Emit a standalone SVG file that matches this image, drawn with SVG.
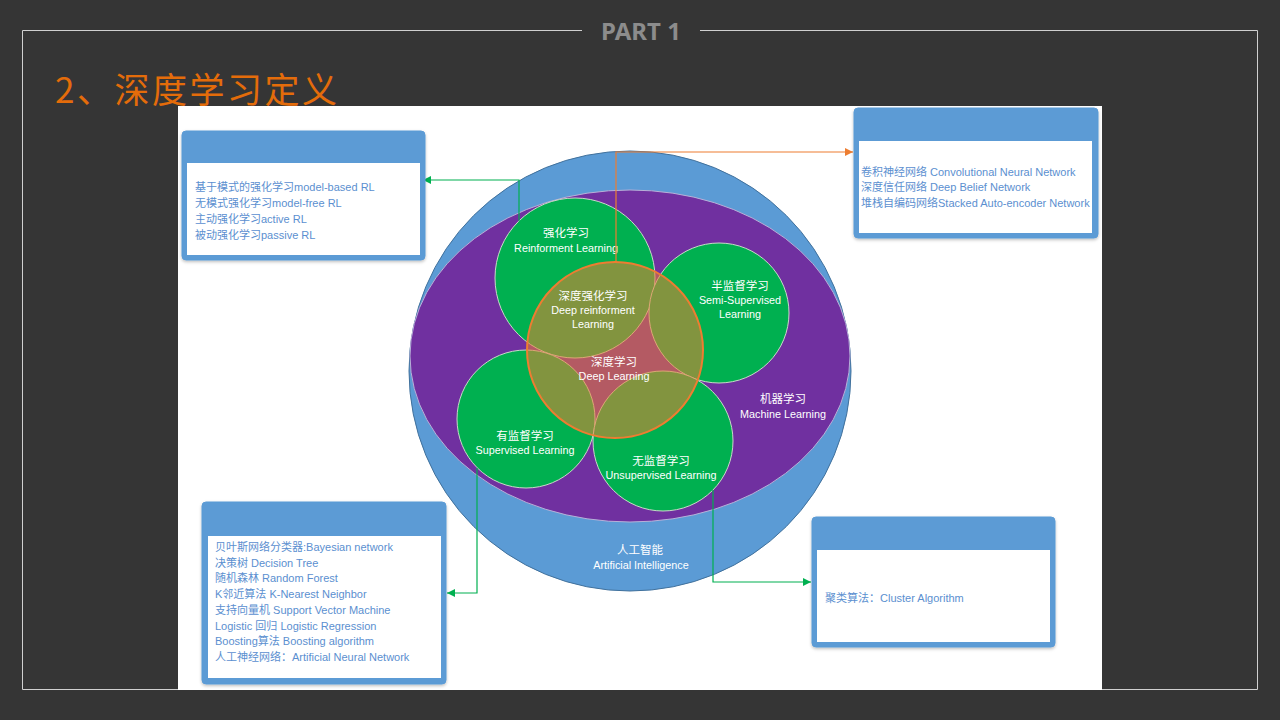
<svg xmlns="http://www.w3.org/2000/svg" width="1280" height="720" viewBox="0 0 1280 720">
<defs>
<style>
.frame{fill:none;stroke:#d0d0d0;stroke-width:1}
.boxo{fill:#5B9BD5;stroke:#5B9BD5;stroke-width:1}
.boxi{fill:#ffffff}
.bt{font-family:"Liberation Sans","Noto Sans CJK SC",sans-serif;font-size:11px;fill:#5B8FD0}
.cn{font-family:"Noto Sans CJK SC",sans-serif;font-size:11.5px;fill:#ffffff;text-anchor:middle}
.en{font-family:"Liberation Sans","Noto Sans CJK SC",sans-serif;font-size:10.8px;fill:#ffffff;text-anchor:middle}
.green{fill:#00B050;stroke:#c9d8c9;stroke-width:1}
.gl{fill:none;stroke:#00B050;stroke-width:1.2}
.ol{fill:none;stroke:#ED7D31;stroke-width:1.2}
</style>
<marker id="ag" viewBox="0 0 10 10" refX="10" refY="5" markerWidth="8" markerHeight="8" orient="auto" markerUnits="userSpaceOnUse"><path d="M0,0 L10,5 L0,10 z" fill="#00B050"/></marker>
<marker id="ao" viewBox="0 0 10 10" refX="10" refY="5" markerWidth="8" markerHeight="8" orient="auto" markerUnits="userSpaceOnUse"><path d="M0,0 L10,5 L0,10 z" fill="#ED7D31"/></marker>
<clipPath id="clipTR"><rect x="859" y="141" width="233" height="92"/></clipPath>
<filter id="sh" x="-5%" y="-5%" width="110%" height="115%"><feDropShadow dx="0" dy="1.5" stdDeviation="1.5" flood-color="#000" flood-opacity="0.25"/></filter>
</defs>
<rect x="0" y="0" width="1280" height="720" fill="#353535"/>
<path class="frame" d="M582,30.5 H22.5 V689.5 H1257.5 V30.5 H700"/>
<text x="641" y="40" font-family="Noto Sans,Liberation Sans,sans-serif" font-weight="bold" font-size="24" fill="#8c8c8c" text-anchor="middle">PART 1</text>
<text x="55" y="103" font-family="Noto Sans CJK SC,sans-serif" font-size="35" letter-spacing="2.5" fill="#E46C0A">2、深度学习定义</text>
<rect x="178" y="106" width="924" height="584" fill="#ffffff"/>

<g id="ai">
<ellipse cx="630" cy="371" rx="221" ry="220" fill="#5B9BD5" stroke="#41719C" stroke-width="1"/>
<text class="cn" x="640" y="554">人工智能</text>
<text class="en" x="641" y="569">Artificial Intelligence</text>
</g>
<g id="ml">
<ellipse cx="630" cy="356" rx="220" ry="166" fill="#7030A0" stroke="#b8b0d8" stroke-width="1"/>
<text class="cn" x="783" y="403">机器学习</text>
<text class="en" x="783" y="418">Machine Learning</text>
</g>
<g id="rl"><circle class="green" cx="575" cy="278" r="80"/></g>
<g id="semi"><circle class="green" cx="719" cy="313" r="70"/></g>
<g id="sup"><circle class="green" cx="526" cy="419" r="69"/></g>
<g id="unsup"><circle class="green" cx="663" cy="441" r="70"/></g>
<g id="dl"><circle cx="615" cy="350" r="88" fill="#ED7D31" fill-opacity="0.55" stroke="#ED7D31" stroke-width="2"/></g>

<g id="labels">
<text class="cn" x="566" y="237">强化学习</text>
<text class="en" x="566" y="252">Reinforment Learning</text>
<text class="cn" x="593" y="300">深度强化学习</text>
<text class="en" x="593" y="314">Deep reinforment</text>
<text class="en" x="593" y="328">Learning</text>
<text class="cn" x="740" y="290">半监督学习</text>
<text class="en" x="740" y="304">Semi-Supervised</text>
<text class="en" x="740" y="318">Learning</text>
<text class="cn" x="614" y="366">深度学习</text>
<text class="en" x="614" y="380">Deep Learning</text>
<text class="cn" x="525" y="440">有监督学习</text>
<text class="en" x="525" y="454">Supervised Learning</text>
<text class="cn" x="661" y="465">无监督学习</text>
<text class="en" x="661" y="479">Unsupervised Learning</text>
</g>

<g id="connectors">
<path class="gl" d="M519,221 V180 H423" marker-end="url(#ag)"/>
<path class="ol" d="M616,262 V152 H853" marker-end="url(#ao)"/>
<path class="gl" d="M477,468 V593 H447" marker-end="url(#ag)"/>
<path class="gl" d="M713,490 V582 H811" marker-end="url(#ag)"/>
</g>

<g id="box-rl">
<rect class="boxo" x="182" y="131" width="243" height="129" rx="4" filter="url(#sh)"/>
<rect class="boxi" x="187" y="163" width="233" height="92"/>
<text class="bt" x="195" y="191">基于模式的强化学习model-based RL</text>
<text class="bt" x="195" y="207">无模式强化学习model-free RL</text>
<text class="bt" x="195" y="223">主动强化学习active RL</text>
<text class="bt" x="195" y="239">被动强化学习passive RL</text>
</g>
<g id="box-dl">
<rect class="boxo" x="854" y="108" width="244" height="130" rx="4" filter="url(#sh)"/>
<rect class="boxi" x="859" y="141" width="233" height="92"/>
<g clip-path="url(#clipTR)">
<text class="bt" x="861" y="176">卷积神经网络 Convolutional Neural Network</text>
<text class="bt" x="861" y="191">深度信任网络 Deep Belief Network</text>
<text class="bt" x="861" y="207">堆栈自编码网络Stacked Auto-encoder Network</text>
</g>
</g>
<g id="box-sup">
<rect class="boxo" x="202" y="502" width="244" height="182" rx="4" filter="url(#sh)"/>
<rect class="boxi" x="208" y="536" width="233" height="142"/>
<text class="bt" x="215" y="551">贝叶斯网络分类器:Bayesian network</text>
<text class="bt" x="215" y="567">决策树 Decision Tree</text>
<text class="bt" x="215" y="582">随机森林 Random Forest</text>
<text class="bt" x="215" y="598">K邻近算法 K-Nearest Neighbor</text>
<text class="bt" x="215" y="614">支持向量机 Support Vector Machine</text>
<text class="bt" x="215" y="630">Logistic 回归 Logistic Regression</text>
<text class="bt" x="215" y="645">Boosting算法 Boosting algorithm</text>
<text class="bt" x="215" y="661">人工神经网络：Artificial Neural Network</text>
</g>
<g id="box-unsup">
<rect class="boxo" x="812" y="517" width="243" height="130" rx="4" filter="url(#sh)"/>
<rect class="boxi" x="817" y="550" width="233" height="92"/>
<text class="bt" x="825" y="602">聚类算法：Cluster Algorithm</text>
</g>
</svg>
